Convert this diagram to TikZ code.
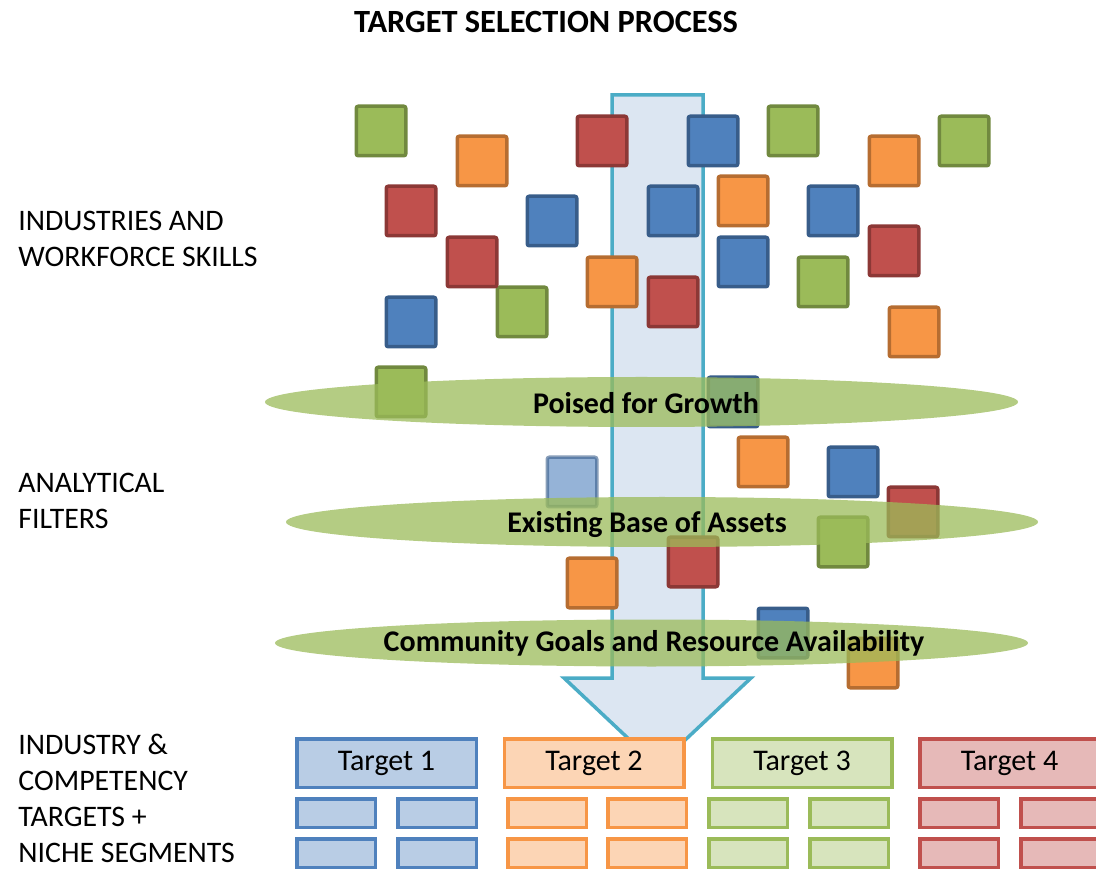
\documentclass[tikz,border=0pt]{standalone}
\usepackage{fontspec}
\setmainfont{Carlito}
\definecolor{oblue}{HTML}{4F81BD}
\definecolor{obluedark}{HTML}{385D8A}
\definecolor{ored}{HTML}{C0504D}
\definecolor{oreddark}{HTML}{8C3836}
\definecolor{ogreen}{HTML}{9BBB59}
\definecolor{ogreendark}{HTML}{71893F}
\definecolor{oorange}{HTML}{F79646}
\definecolor{oorangedark}{HTML}{B66D31}
\definecolor{funnelfill}{HTML}{DCE6F2}
\definecolor{funnelline}{HTML}{4BACC6}
\definecolor{tbluefill}{HTML}{B9CDE5}
\definecolor{torangefill}{HTML}{FCD5B5}
\definecolor{tgreenfill}{HTML}{D7E4BD}
\definecolor{tredfill}{HTML}{E6B9B8}
\tikzset{
  tile/.style={rectangle, rounded corners=1pt, line width=1.75pt, minimum size=24.75pt, inner sep=0pt},
  gtile/.style={tile, fill=ogreen, draw=ogreendark},
  otile/.style={tile, fill=oorange, draw=oorangedark},
  rtile/.style={tile, fill=ored, draw=oreddark},
  btile/.style={tile, fill=oblue, draw=obluedark},
  filterband/.style={fill=ogreen, fill opacity=0.75},
  filterlabel/.style={font=\fontsize{15}{17}\selectfont\bfseries, inner sep=0pt},
  sidelabel/.style={font=\fontsize{14.9}{18}\selectfont, align=left, anchor=north west, inner sep=0pt},
  targetbox/.style={rectangle, line width=1.75pt, minimum width=89.75pt, minimum height=24.25pt, inner sep=0pt, font=\fontsize{15}{17}\selectfont},
  nichebox/.style={rectangle, line width=1.75pt, minimum width=39.25pt, minimum height=14.25pt, inner sep=0pt},
}
\begin{document}
\begin{tikzpicture}[x=0.5pt, y=-0.5pt]
\useasboundingbox (0,0) rectangle (1096,870);

% heading and side captions
\node[font=\fontsize{16.2}{19}\selectfont\bfseries] (title) at (546,22) {TARGET SELECTION PROCESS};
\node[sidelabel] (pool) at (18,211) {INDUSTRIES AND\\WORKFORCE SKILLS};
\node[sidelabel] (filters) at (18,473) {ANALYTICAL\\FILTERS};
\node[sidelabel] (result) at (18,734) {INDUSTRY \&\\COMPETENCY\\TARGETS +\\NICHE SEGMENTS};

% the big downward arrow
\draw[line width=1.75pt, draw=funnelline, fill=funnelfill, line join=miter]
  (612,95) -- (703,95) -- (703,678) -- (751,678) -- (657.5,766) -- (564,678) -- (612,678) -- cycle;

% scattered industry tiles
\foreach \n/\x/\y in {1/381/131, 2/793/131, 3/964/141, 4/522/312, 5/823/282, 6/401/392, 7/843/542}
  \node[gtile] (g\n) at (\x,\y) {};
\foreach \n/\x/\y in {1/482/161, 2/894/161, 3/743/201, 4/612/282, 5/914/332, 6/763/462, 7/592/583, 8/873/663}
  \node[otile] (o\n) at (\x,\y) {};
\foreach \n/\x/\y in {1/602/141, 2/411/211, 3/472/262, 4/894/251, 5/673/302, 6/913/512, 7/693/562}
  \node[rtile] (r\n) at (\x,\y) {};
\foreach \n/\x/\y in {1/713/141, 2/552/221, 3/673/211, 4/833/211, 5/743/262, 6/411/322, 7/733/402, 8/853/472, 9/783/633}
  \node[btile] (b\n) at (\x,\y) {};
\node[btile, opacity=0.6] (b10) at (572,482) {};

% filter bands
\coordinate (band1) at (641.5,402);
\coordinate (band2) at (662,522);
\coordinate (band3) at (651.5,643);
\fill[filterband] (band1) ellipse [x radius=188.25pt, y radius=12.5pt];
\fill[filterband] (band2) ellipse [x radius=188pt, y radius=12.5pt];
\fill[filterband] (band3) ellipse [x radius=188.25pt, y radius=11.75pt];
\node[filterlabel] (growth) at (646,403) {Poised for Growth};
\node[filterlabel] (assets) at (647,524) {Existing Base of Assets};
\node[filterlabel] (goals) at (654,643) {Community Goals and Resource Availability};

% targets
\node[targetbox, fill=tbluefill, draw=oblue] (t1) at (386.5,763) {Target 1};
\node[targetbox, fill=torangefill, draw=oorange] (t2) at (594,763) {Target 2};
\node[targetbox, fill=tgreenfill, draw=ogreen] (t3) at (802,763) {Target 3};
\node[targetbox, fill=tredfill, draw=ored] (t4) at (1009.5,763) {Target 4};

% niche segments
\foreach \row/\y in {1/813, 2/853} {
  \foreach \col/\x/\fc/\dc in {1/336/tbluefill/oblue, 2/437/tbluefill/oblue, 3/547/torangefill/oorange, 4/647/torangefill/oorange,
                              5/748/tgreenfill/ogreen, 6/849/tgreenfill/ogreen, 7/959/tredfill/ored, 8/1060/tredfill/ored}
    \node[nichebox, fill=\fc, draw=\dc] (n\row\col) at (\x,\y) {};
}
\end{tikzpicture}
\end{document}
